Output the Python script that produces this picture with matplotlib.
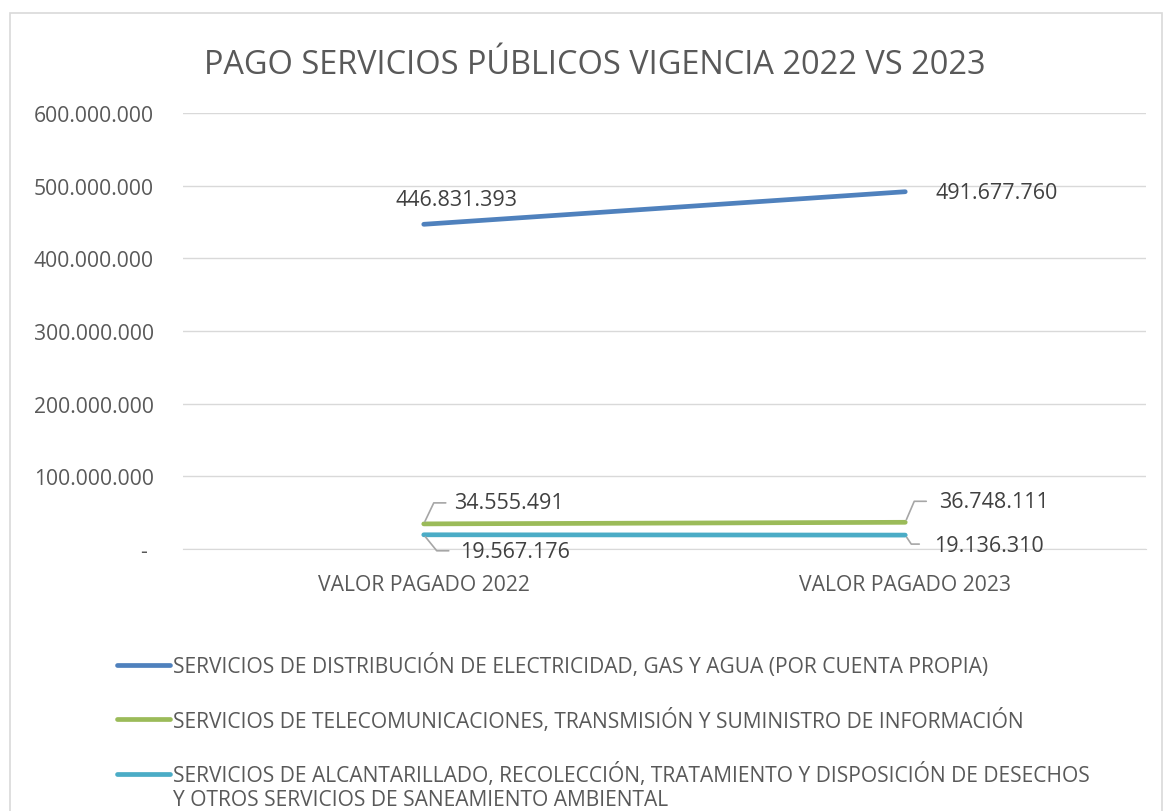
import math
import matplotlib.pyplot as plt
from matplotlib.patches import Rectangle
from matplotlib.ticker import FuncFormatter

plt.rcParams['font.family'] = ['Open Sans', 'DejaVu Sans']

# Datos
categorias = ['VALOR PAGADO 2022', 'VALOR PAGADO 2023']
series = [
    'SERVICIOS DE DISTRIBUCIÓN DE ELECTRICIDAD, GAS Y AGUA (POR CUENTA PROPIA)',
    'SERVICIOS DE TELECOMUNICACIONES, TRANSMISIÓN Y SUMINISTRO DE INFORMACIÓN',
    'SERVICIOS DE ALCANTARILLADO, RECOLECCIÓN, TRATAMIENTO Y DISPOSICIÓN DE DESECHOS',
]
series_cont = 'Y OTROS SERVICIOS DE SANEAMIENTO AMBIENTAL'  # segunda línea de la 3a serie
electricidad = [446831393, 491677760]
telecom = [34555491, 36748111]
alcantarillado = [19567176, 19136310]
colores = ['#4F81BD', '#9BBB59', '#4BACC6']
gris = '#595959'

fig = plt.figure(figsize=(11.66, 8.12), dpi=100)
W, H = 1166, 812

# Borde del área del gráfico
fig.patches.append(Rectangle((10 / W, -0.01), 1152 / W, 1 - 14 / H + 0.01,
                             transform=fig.transFigure, fill=False,
                             edgecolor='#D9D9D9', linewidth=1.2))

ax = fig.add_axes([183 / W, 1 - 550 / H, 963 / W, 436 / H])

x = range(len(categorias))
for vals, col, lab in zip([electricidad, telecom, alcantarillado], colores, series):
    ax.plot(x, vals, color=col, linewidth=3.4, solid_capstyle='round', label=lab)

ax.set_xlim(-0.5, 1.5)
ax.set_ylim(0, 600000000)
ax.set_yticks(range(0, 600000001, 100000000))
ax.yaxis.set_major_formatter(FuncFormatter(
    lambda v, p: '- ' if v == 0 else f'{int(v):,}'.replace(',', '.')))
ax.set_xticks(list(x))
ax.set_xticklabels(categorias)
ax.grid(axis='y', color='#D9D9D9', linewidth=1)
ax.set_axisbelow(True)
for s in ['top', 'right', 'left']:
    ax.spines[s].set_visible(False)
ax.spines['bottom'].set_color('#D9D9D9')
ax.tick_params(length=0, labelsize=15.2, colors=gris)
ax.tick_params(axis='y', pad=21)
ax.tick_params(axis='x', pad=18)

fig.text(595 / W, 1 - 62 / H, 'PAGO SERVICIOS PÚBLICOS VIGENCIA 2022 VS 2023',
         ha='center', va='center_baseline', fontsize=23.4, color=gris)

fmt = lambda v: f'{v:,}'.replace(',', '.')
fs = 15.5

# Etiquetas serie azul
ax.annotate(fmt(electricidad[0]), (0, electricidad[0]), xytext=(33, 25),
            textcoords='offset pixels', ha='center', va='center', fontsize=fs, color='#404040')
ax.annotate(fmt(electricidad[1]), (1, electricidad[1]), xytext=(30, -1),
            textcoords='offset pixels', ha='left', va='center', fontsize=fs, color='#404040')

# Etiquetas con líneas guía
guias = [
    (0, telecom[0], (10, 21), (22, 21), (30, 21)),
    (0, alcantarillado[0], (13, -16), (25, -16), (36, -17)),
    (1, telecom[1], (9, 21), (21, 21), (34, 21)),
    (1, alcantarillado[1], (6, -9), (14, -9), (29, -10)),
]
for xi, v, esq, fin, txt in guias:
    ang = math.degrees(math.atan2(esq[1], esq[0]))
    ax.annotate('', xy=(xi, v), xytext=fin, textcoords='offset pixels',
                arrowprops=dict(arrowstyle='-', color='#A6A6A6', lw=1.2,
                                shrinkA=0, shrinkB=2,
                                connectionstyle=f'angle,angleA=0,angleB={ang},rad=0'))
    ax.annotate(fmt(v), (xi, v), xytext=txt, textcoords='offset pixels',
                ha='left', va='center', fontsize=fs, color='#404040')

leg = fig.legend(loc='upper left', bbox_to_anchor=(109 / W, 1 - 646 / H),
                 frameon=False, fontsize=15.1, labelcolor=gris, handlelength=2.5,
                 handletextpad=0.15, labelspacing=1.45, borderaxespad=0)

# Segunda línea del texto de la tercera serie, alineada con la leyenda
fig.canvas.draw()
bb = leg.get_texts()[2].get_window_extent()
fig.text(bb.x0 / W, (bb.y0 - 25 + bb.height / 2) / H, series_cont,
         ha='left', va='center', fontsize=15.1, color=gris)

fig.savefig('out.png', dpi=100)
